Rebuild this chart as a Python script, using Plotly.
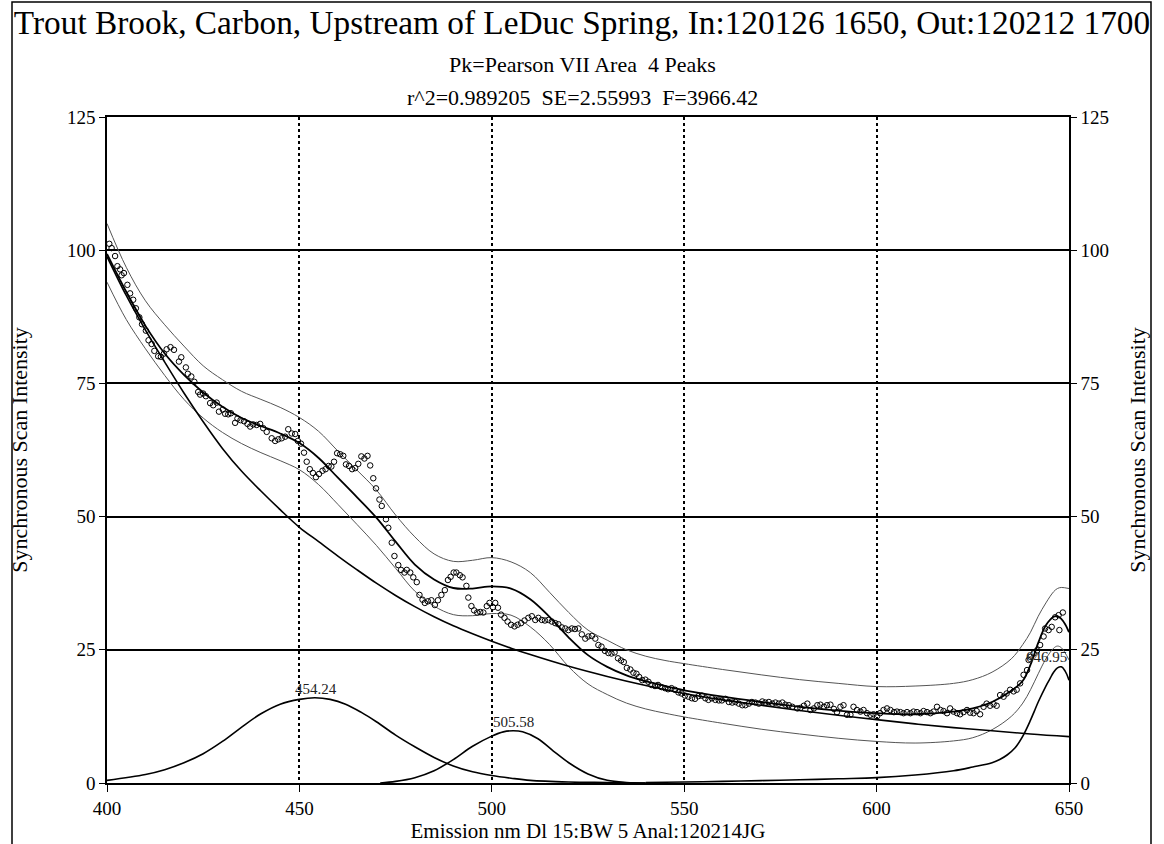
import plotly.graph_objects as go

TITLE = "Trout Brook, Carbon, Upstream of LeDuc Spring, In:120126 1650, Out:120212 1700"
SUBTITLE = "Pk=Pearson VII Area\u00a0\u00a04 Peaks"
STATS = "r^2=0.989205\u00a0\u00a0SE=2.55993\u00a0\u00a0F=3966.42"
X_TITLE = "Emission nm Dl 15:BW 5 Anal:120214JG"
Y_TITLE = "Synchronous Scan Intensity"

x_ticks = [400, 450, 500, 550, 600, 650]
y_ticks = [0, 25, 50, 75, 100, 125]

# measured scan points (circles)
scan_nm = [
    400.6, 401.2, 402.1, 402.7, 403.4, 403.8, 404.4, 405.3, 406.0, 406.8, 407.5, 408.4, 409.1, 410.1, 410.8,
    411.6, 412.3, 413.3, 414.0, 414.8, 415.5, 416.5, 417.4, 418.7, 419.3, 420.5, 421.0, 421.9, 422.7, 423.7,
    424.2, 425.0, 425.7, 426.8, 427.6, 428.5, 429.1, 430.1, 430.7, 431.5, 432.2, 433.3, 433.9, 434.7, 435.6,
    436.5, 437.2, 438.0, 438.9, 439.8, 440.6, 441.5, 442.8, 443.7, 444.5, 445.4, 446.3, 447.1,
    448.0, 448.9, 449.6, 450.4, 451.2, 451.9, 452.7, 453.5, 454.3, 455.1, 456.0, 456.8, 457.6, 458.3, 459.0,
    459.8, 460.6, 461.4, 462.1, 462.9, 463.7, 464.5, 465.3, 466.1, 466.9, 467.7, 468.4, 469.2, 469.9, 470.8,
    471.4, 472.5, 473.1, 474.0, 474.7, 475.7, 476.4, 477.3, 477.9, 478.8, 479.6, 480.5,
    481.2, 482.0, 482.6, 483.4, 484.3, 485.2, 486.0, 486.9, 487.8, 488.6, 489.3, 490.1, 490.8, 491.7, 492.4,
    493.4, 493.9, 494.7, 495.4, 496.2, 497.0, 497.8, 498.7, 499.4, 500.3, 500.9, 501.6, 502.4, 503.3, 504.1,
    505.0, 505.9, 506.7, 507.6, 508.5, 509.5, 510.4, 511.3, 512.1, 513.0, 513.8, 514.7, 515.6, 516.5, 517.3,
    518.2, 519.1, 519.9, 520.8, 521.6, 522.5, 523.4, 524.3, 525.1, 526.0, 526.9, 527.7, 528.5, 529.4, 530.3,
    531.1, 531.9, 532.8, 533.6, 534.3, 535.1, 536.0, 536.8, 537.6, 538.3, 539.1, 539.9,
    540.7, 541.5, 542.4, 543.2, 544.1, 545.0, 545.8, 546.7, 547.6, 548.5, 549.3, 550.2, 551.1, 552.0, 552.8,
    553.7, 554.6, 555.5, 556.3, 557.2, 558.1, 559.0, 559.8, 560.7, 561.6, 562.5, 563.3, 564.2, 565.1, 565.9,
    566.8, 567.6, 568.5, 569.4, 570.3, 571.1, 572.0, 572.9, 573.7, 574.6, 575.5, 576.3, 577.2, 578.1, 579.4,
    580.2, 581.1, 582.0, 582.8, 583.7, 584.6, 585.4, 586.3, 587.1, 588.0, 588.9, 589.7, 590.6, 591.4, 592.3,
    593.2, 594.0, 594.9, 595.8, 596.6, 597.5, 598.4, 599.2, 600.1,
    600.9, 601.8, 602.7, 603.6, 604.5, 605.3, 606.2, 607.0, 607.9, 608.8, 609.6, 610.5, 611.4, 612.2, 613.1,
    614.0, 614.8, 615.7, 616.6, 617.4, 618.3, 619.1, 620.0, 620.9, 621.7, 622.6, 623.5, 624.3, 625.2, 626.0,
    626.9, 627.8, 628.6, 629.5, 630.4, 631.2, 632.1, 633.0, 633.8, 634.7, 635.6, 636.4, 637.3, 638.2, 639.1,
    639.5, 640.0, 640.8, 641.7, 642.5, 643.4, 643.8, 644.7, 645.5, 646.4, 647.3, 647.5, 648.4,
]
scan_val = [
    101.2, 100.4, 98.9, 97.0, 96.4, 95.3, 95.7, 93.5, 91.9, 90.7, 89.1, 87.4, 86.1, 84.9, 83.1,
    82.4, 81.1, 80.1, 80.0, 80.6, 81.4, 81.8, 81.3, 79.1, 79.9, 78.0, 76.8, 76.3, 75.3, 73.4,
    72.9, 73.1, 72.6, 71.3, 70.9, 71.4, 69.7, 70.1, 69.3, 69.2, 69.4, 67.6, 68.4, 68.1, 67.9,
    67.4, 66.9, 67.3, 67.2, 67.4, 66.6, 65.9, 64.7, 64.2, 64.5, 64.7, 65.0, 66.4,
    65.6, 65.5, 64.2, 63.7, 62.0, 60.3, 58.9, 58.2, 57.4, 58.0, 58.6, 58.9, 59.5, 59.4, 60.3,
    61.9, 61.7, 61.4, 59.8, 59.5, 58.9, 59.1, 59.9, 61.3, 60.9, 61.4, 59.6, 57.2, 55.3, 53.2,
    52.0, 49.5, 47.9, 45.1, 42.6, 40.9, 40.0, 39.5, 40.0, 39.5, 38.6, 37.7,
    35.3, 34.4, 33.8, 34.1, 34.3, 33.4, 34.3, 35.3, 36.2, 38.1, 38.7, 39.5, 39.5, 39.0, 38.6,
    37.0, 34.8, 33.2, 32.4, 32.0, 32.1, 32.0, 33.2, 33.8, 33.0, 33.8, 32.9, 31.6, 31.0, 30.3,
    29.7, 29.4, 29.7, 30.0, 30.5, 31.0, 31.3, 30.6, 31.0, 30.6, 30.5, 30.6, 30.3, 30.0, 29.8,
    29.2, 29.0, 28.7, 29.0, 28.9, 29.0, 27.9, 27.1, 27.5, 27.6, 27.1, 25.9, 25.6, 24.8, 24.4,
    24.3, 24.5, 23.4, 23.0, 22.7, 21.6, 21.3, 20.7, 20.5, 19.9, 19.3, 19.4,
    19.0, 18.4, 18.2, 18.4, 18.0, 17.8, 17.6, 17.8, 17.5, 17.0, 16.8, 16.4, 16.2, 15.9, 15.8,
    16.3, 16.4, 15.9, 15.6, 15.9, 15.6, 15.5, 15.5, 15.8, 15.2, 15.1, 15.2, 14.9, 14.6, 14.6,
    14.9, 15.2, 15.1, 14.9, 15.3, 15.1, 15.2, 14.9, 15.1, 14.9, 15.1, 14.7, 14.6, 14.3, 14.0,
    14.1, 14.5, 14.9, 13.7, 14.0, 14.6, 14.7, 14.3, 14.6, 14.7, 13.9, 13.3, 14.3, 14.6, 12.8,
    12.8, 14.3, 13.7, 13.4, 13.7, 13.1, 12.8, 12.9, 12.5,
    13.1, 13.7, 14.0, 13.7, 13.3, 13.4, 13.3, 13.1, 13.3, 13.1, 13.4, 13.3, 13.1, 13.5, 13.3,
    13.1, 13.4, 14.3, 13.7, 13.5, 13.1, 14.0, 13.4, 13.1, 12.9, 13.3, 13.7, 13.2, 13.1, 13.5,
    12.9, 14.3, 14.9, 14.5, 14.8, 14.5, 16.5, 16.2, 16.8, 17.5, 17.2, 17.5, 18.7, 20.3, 21.2,
    23.1, 23.7, 24.3, 24.9, 25.9, 27.5, 29.0, 28.7, 29.3, 31.1, 31.5, 28.7, 32.0,
]

# fitted total curve
fit_nm = [400, 405, 410, 415, 420, 425, 430, 435, 440, 445, 450, 455, 460, 465, 470, 475, 480, 485, 490,
          495, 500, 505, 510, 515, 520, 525, 530, 535, 540, 545, 550, 560, 570, 580, 590, 600, 610, 620,
          625, 630, 635, 638, 640, 642, 644, 646, 647, 648, 649, 650]
fit_val = [99.3, 92.2, 85.8, 80.6, 76.6, 73.3, 70.6, 68.5, 67.0, 65.6, 63.8, 61.0, 57.3, 53.6, 49.8, 45.3,
           41.0, 38.2, 36.6, 36.5, 36.9, 36.5, 34.5, 31.2, 27.3, 24.0, 21.8, 20.2, 19.1, 18.2, 17.4, 16.2,
           15.2, 14.3, 13.6, 13.1, 12.9, 13.4, 14.0, 15.2, 17.3, 19.2, 22.2, 26.3, 29.6, 31.2, 31.3, 30.8,
           29.8, 28.3]

# upper / lower confidence bands
band_nm = [400, 405, 410, 415, 420, 425, 430, 435, 440, 445, 450, 455, 460, 465, 470, 475, 480, 485, 490,
           495, 500, 505, 510, 515, 520, 525, 530, 535, 540, 545, 550, 560, 570, 580, 590, 600, 610, 620,
           625, 630, 635, 638, 640, 642, 644, 646, 647, 648, 650]
upper_val = [105.0, 96.8, 90.5, 86.0, 82.0, 78.3, 75.7, 73.5, 72.0, 70.5, 68.6, 66.0, 62.3, 58.7, 55.0,
             50.3, 46.2, 43.0, 41.6, 41.8, 42.3, 41.5, 39.5, 35.8, 32.0, 28.7, 26.8, 25.0, 23.8, 23.0, 22.4,
             21.3, 20.3, 19.4, 18.7, 18.1, 18.2, 18.7, 19.4, 20.8, 23.3, 26.0, 28.3, 31.3, 33.8, 35.9, 36.5,
             36.7, 36.5]
lower_val = [94.0, 87.0, 81.5, 76.5, 72.0, 68.5, 65.8, 63.7, 62.0, 60.5, 58.8, 56.0, 52.3, 48.5, 44.6,
             40.3, 36.0, 33.2, 31.6, 31.4, 31.8, 31.5, 29.3, 26.0, 21.8, 18.6, 16.6, 15.0, 13.9, 13.1, 12.4,
             11.2, 10.1, 9.2, 8.4, 7.8, 7.5, 7.9, 8.5, 10.0, 12.5, 15.0, 17.5, 20.5, 23.3, 25.3, 25.7, 25.4,
             23.1]

# component peak 4 (decaying background)
base_nm = [400, 405, 410, 415, 420, 425, 430, 435, 440, 445, 450, 455, 460, 465, 470, 475, 480, 485, 490,
           495, 500, 505, 510, 520, 530, 540, 550, 560, 570, 580, 590, 600, 610, 620, 630, 640, 650]
base_val = [98.8, 91.5, 85.0, 79.0, 73.2, 67.8, 62.8, 58.5, 54.8, 51.3, 48.0, 45.3, 42.6, 40.0, 37.5, 35.2,
            33.1, 31.2, 29.5, 28.0, 26.6, 25.3, 24.1, 21.9, 20.0, 18.3, 16.8, 15.6, 14.6, 13.6, 12.7, 11.9,
            11.1, 10.4, 9.8, 9.2, 8.7]

# component peak 1 (454.24)
p1_nm = [400, 410, 415, 420, 425, 430, 435, 440, 445, 450, 454, 458, 462, 466, 470, 475, 480, 485, 490,
         495, 500, 505, 510, 520, 530, 540]
p1_val = [0.5, 1.6, 2.5, 3.8, 5.5, 7.8, 10.5, 13.0, 14.8, 15.7, 16.0, 15.7, 14.8, 13.3, 11.5, 9.0, 6.8,
          4.8, 3.2, 2.1, 1.4, 0.9, 0.5, 0.2, 0.1, 0.0]

# component peak 2 (505.58)
p2_nm = [471, 475, 480, 485, 490, 495, 500, 503, 505.6, 508, 512, 516, 520, 525, 530, 535, 540]
p2_val = [0.0, 0.3, 1.0, 2.3, 4.4, 6.9, 8.8, 9.6, 9.8, 9.6, 8.3, 6.0, 3.8, 1.7, 0.5, 0.1, 0.0]

# component peak 3 (646.95)
p3_nm = [540, 550, 560, 570, 580, 590, 600, 610, 620, 625, 630, 632, 634, 636, 638, 640, 641, 642, 644,
         645, 646, 647, 648, 649, 650]
p3_val = [0.1, 0.2, 0.3, 0.45, 0.6, 0.8, 1.0, 1.5, 2.3, 3.0, 3.8, 4.4, 5.3, 6.6, 8.8, 11.8, 13.5, 15.2,
          18.2, 19.5, 20.8, 21.6, 21.8, 21.0, 19.3]

peak_labels = ["454.24", "505.58", "646.95"]
peak_pos = [454.24, 505.58, 650.0]
peak_top = [16.0, 9.8, 22.0]
peak_anchor = ["center", "center", "right"]

FONT = "Liberation Serif, Times New Roman, serif"

fig = go.Figure()

band_line = dict(color="#555555", width=1)
fig.add_trace(go.Scatter(x=band_nm, y=upper_val, mode="lines", line=band_line, line_shape="spline",
                         hoverinfo="skip", showlegend=False))
fig.add_trace(go.Scatter(x=band_nm, y=lower_val, mode="lines", line=band_line, line_shape="spline",
                         hoverinfo="skip", showlegend=False))
comp_line = dict(color="black", width=1.6)
fig.add_trace(go.Scatter(x=base_nm, y=base_val, mode="lines", line=comp_line, line_shape="spline",
                         showlegend=False))
fig.add_trace(go.Scatter(x=p1_nm, y=p1_val, mode="lines", line=comp_line, line_shape="spline",
                         showlegend=False))
fig.add_trace(go.Scatter(x=p2_nm, y=p2_val, mode="lines", line=comp_line, line_shape="spline",
                         showlegend=False))
fig.add_trace(go.Scatter(x=p3_nm, y=p3_val, mode="lines", line=comp_line, line_shape="spline",
                         showlegend=False, yaxis="y2"))
fig.add_trace(go.Scatter(x=fit_nm, y=fit_val, mode="lines", line=dict(color="black", width=1.8),
                         line_shape="spline", showlegend=False))
fig.add_trace(go.Scatter(x=scan_nm, y=scan_val, mode="markers",
                         marker=dict(symbol="circle-open", size=5.5, color="black", line=dict(width=1)),
                         showlegend=False))

for lab, px, py, anc in zip(peak_labels, peak_pos, peak_top, peak_anchor):
    fig.add_annotation(x=px, y=py, text=lab, showarrow=False, xanchor=anc, yanchor="bottom",
                       font=dict(family=FONT, size=15, color="#222222"), yshift=-1)

L, R, T, B = 107, 95, 117, 61
W, H = 1164, 844
pw, ph = W - L - R, H - T - B


def px2paper_x(px):
    return (px - L) / pw


def px2paper_y(py):
    return (H - B - py) / ph


fig.add_annotation(xref="paper", yref="paper", x=px2paper_x(582), y=px2paper_y(65), text=SUBTITLE,
                   showarrow=False, xanchor="center", yanchor="middle",
                   font=dict(family=FONT, size=22, color="black"))
fig.add_annotation(xref="paper", yref="paper", x=px2paper_x(582), y=px2paper_y(98), text=STATS,
                   showarrow=False, xanchor="center", yanchor="middle",
                   font=dict(family=FONT, size=22, color="black"))

fig.add_shape(type="rect", xref="paper", yref="paper", x0=px2paper_x(12), x1=px2paper_x(1151),
              y0=px2paper_y(900), y1=px2paper_y(2), line=dict(color="black", width=1.5))

tickfont = dict(family=FONT, size=19, color="black")
titlefont = dict(family=FONT, size=22, color="black")
fig.update_layout(
    width=W, height=H, margin=dict(l=L, r=R, t=T, b=B, autoexpand=False),
    paper_bgcolor="white", plot_bgcolor="white",
    title=dict(text=TITLE, x=0.5, xanchor="center", xref="container", y=1 - 22 / H, yanchor="middle",
               yref="container", font=dict(family=FONT, size=33.3, color="black")),
    xaxis=dict(range=[400, 650], tickvals=x_ticks, ticks="outside", ticklen=7, tickcolor="black",
               showline=True, linecolor="black", linewidth=1.5, mirror=True, automargin=False,
               showgrid=True, gridcolor="black", gridwidth=1.5, griddash="dot", zeroline=False,
               tickfont=tickfont,
               title=dict(text=X_TITLE, font=dict(family=FONT, size=21, color="black"), standoff=0)),
    yaxis=dict(range=[0, 125], tickvals=y_ticks, ticks="outside", ticklen=6, tickcolor="black",
               showline=True, linecolor="black", linewidth=1.5, automargin=False,
               showgrid=True, gridcolor="black", gridwidth=1.5, zeroline=False, tickfont=tickfont,
               title=dict(text=Y_TITLE, font=titlefont, standoff=33)),
    yaxis2=dict(range=[0, 125], tickvals=y_ticks, ticks="outside", ticklen=6, tickcolor="black",
                overlaying="y", side="right", showline=True, linecolor="black", linewidth=1.5,
                automargin=False, showgrid=False, zeroline=False, tickfont=tickfont,
                title=dict(text=Y_TITLE, font=titlefont, standoff=22)),
)

fig.write_html("out.html", config={"displayModeBar": False},
               post_script="document.body.style.margin='0';")
